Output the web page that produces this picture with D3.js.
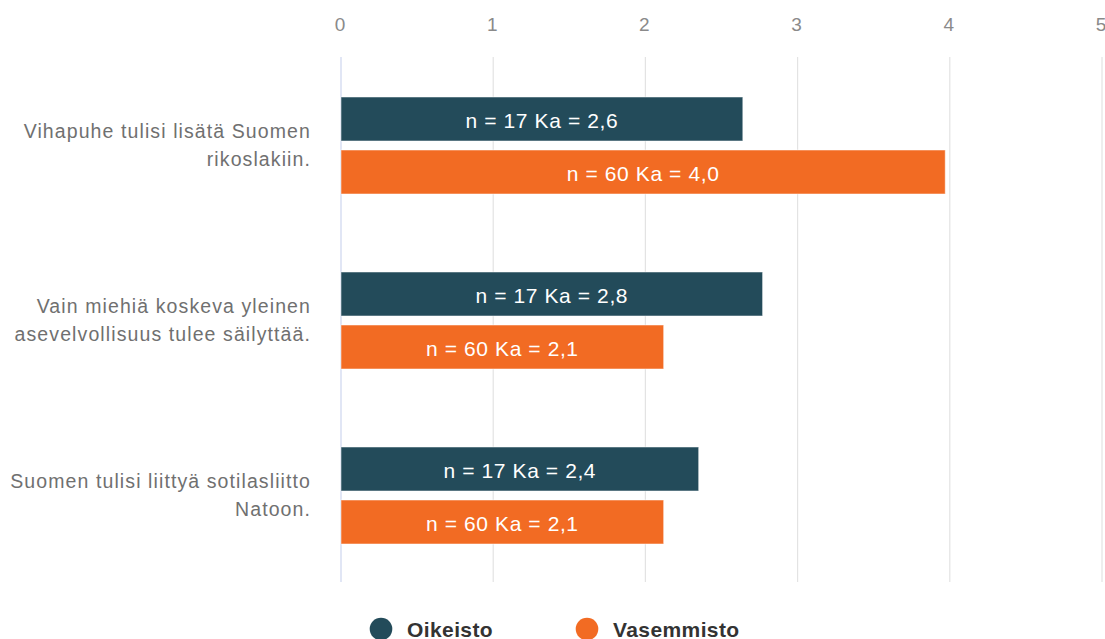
<!DOCTYPE html>
<html>
<head>
<meta charset="utf-8">
<script src="https://cdn.jsdelivr.net/npm/d3@7"></script>
<style>
  body { margin: 0; background: #fff; }
  svg { display: block; font-family: "Liberation Sans", Arial, sans-serif; }
</style>
</head>
<body>
<svg id="chart" width="1105" height="639"></svg>
<script>
// data
const categories = [
  ['Vihapuhe tulisi lisätä Suomen', 'rikoslakiin.'],
  ['Vain miehiä koskeva yleinen', 'asevelvollisuus tulee säilyttää.'],
  ['Suomen tulisi liittyä sotilasliitto', 'Natoon.']
]
const series = ['Oikeisto', 'Vasemmisto']
const oikeisto = [2.64, 2.77, 2.35]
const vasemmisto = [3.97, 2.12, 2.12]
const nValues = [17, 60]
const kaLabels = [['2,6', '4,0'], ['2,8', '2,1'], ['2,4', '2,1']]
const xTicks = [0, 1, 2, 3, 4, 5]
const colors = ['#234b5a', '#f26b23']

const svg = d3.select('#chart')
const marge = { top: 57, bottom: 57, left: 341, right: 3 }
const width = +svg.attr('width')
const height = +svg.attr('height')

let x = d3.scaleLinear()
  .domain([0, 5])
  .range([marge.left, width - marge.right])

let y0 = d3.scaleBand()
  .domain(d3.range(categories.length))
  .range([marge.top, height - marge.bottom])

let y1 = d3.scaleBand()
  .domain(d3.range(series.length))
  .range([40, 137])
  .paddingInner(0.17)

// gridlines
svg.append('g')
  .selectAll('line')
  .data(xTicks)
  .enter()
  .append('line')
  .attr('x1', d => x(d))
  .attr('x2', d => x(d))
  .attr('y1', marge.top)
  .attr('y2', height - marge.bottom)
  .attr('stroke', d => d === 0 ? '#cdd6ee' : '#e3e3e3')
  .attr('stroke-width', 1.2)

// top axis labels
svg.append('g')
  .selectAll('text')
  .data(xTicks)
  .enter()
  .append('text')
  .attr('x', d => x(d) - 1)
  .attr('y', 31)
  .attr('text-anchor', 'middle')
  .attr('font-size', 19)
  .attr('fill', '#8a8a8a')
  .text(d => d)

// bars
let groups = svg.append('g')
  .selectAll('g')
  .data(categories.map((c, i) => ({ i, vals: [oikeisto[i], vasemmisto[i]] })))
  .enter()
  .append('g')
  .attr('transform', d => `translate(0,${y0(d.i)})`)

groups.selectAll('rect')
  .data(d => d.vals.map((v, s) => ({ v, s, i: d.i })))
  .enter()
  .append('rect')
  .attr('x', x(0))
  .attr('y', d => y1(d.s))
  .attr('width', d => x(d.v) - x(0))
  .attr('height', y1.bandwidth())
  .attr('fill', d => colors[d.s])
  .attr('stroke', 'rgba(255,255,255,0.5)')
  .attr('stroke-width', 1)

groups.selectAll('text.val')
  .data(d => d.vals.map((v, s) => ({ v, s, i: d.i })))
  .enter()
  .append('text')
  .attr('class', 'val')
  .attr('x', d => (x(0) + x(d.v)) / 2)
  .attr('y', d => y1(d.s) + y1.bandwidth() / 2)
  .attr('dy', '0.42em')
  .attr('text-anchor', 'middle')
  .attr('font-size', 21)
  .attr('letter-spacing', 0.6)
  .attr('fill', '#fff')
  .text(d => `n = ${nValues[d.s]} Ka = ${kaLabels[d.i][d.s]}`)

// category labels
svg.append('g')
  .selectAll('text')
  .data(categories)
  .enter()
  .append('text')
  .attr('text-anchor', 'end')
  .attr('font-size', 19.5)
  .attr('letter-spacing', 1.1)
  .attr('fill', '#707070')
  .attr('transform', (d, i) => `translate(311,${y0(i) + 40 + 97 / 2})`)
  .selectAll('tspan')
  .data(d => d)
  .enter()
  .append('tspan')
  .attr('x', 0)
  .attr('y', (d, j) => (j - 0.5) * 28)
  .attr('dy', '0.35em')
  .text(d => d)

// legend
let legendX = [381, 587]
let legend = svg.append('g')
  .selectAll('g')
  .data(series)
  .enter()
  .append('g')
  .attr('transform', (d, i) => `translate(${legendX[i]},629)`)

legend.append('circle')
  .attr('r', 11.3)
  .attr('fill', (d, i) => colors[i])

legend.append('text')
  .attr('x', 26)
  .attr('y', 8)
  .attr('font-size', 21)
  .attr('font-weight', 'bold')
  .attr('letter-spacing', 0.4)
  .attr('fill', '#333')
  .text(d => d)
</script>
</body>
</html>
